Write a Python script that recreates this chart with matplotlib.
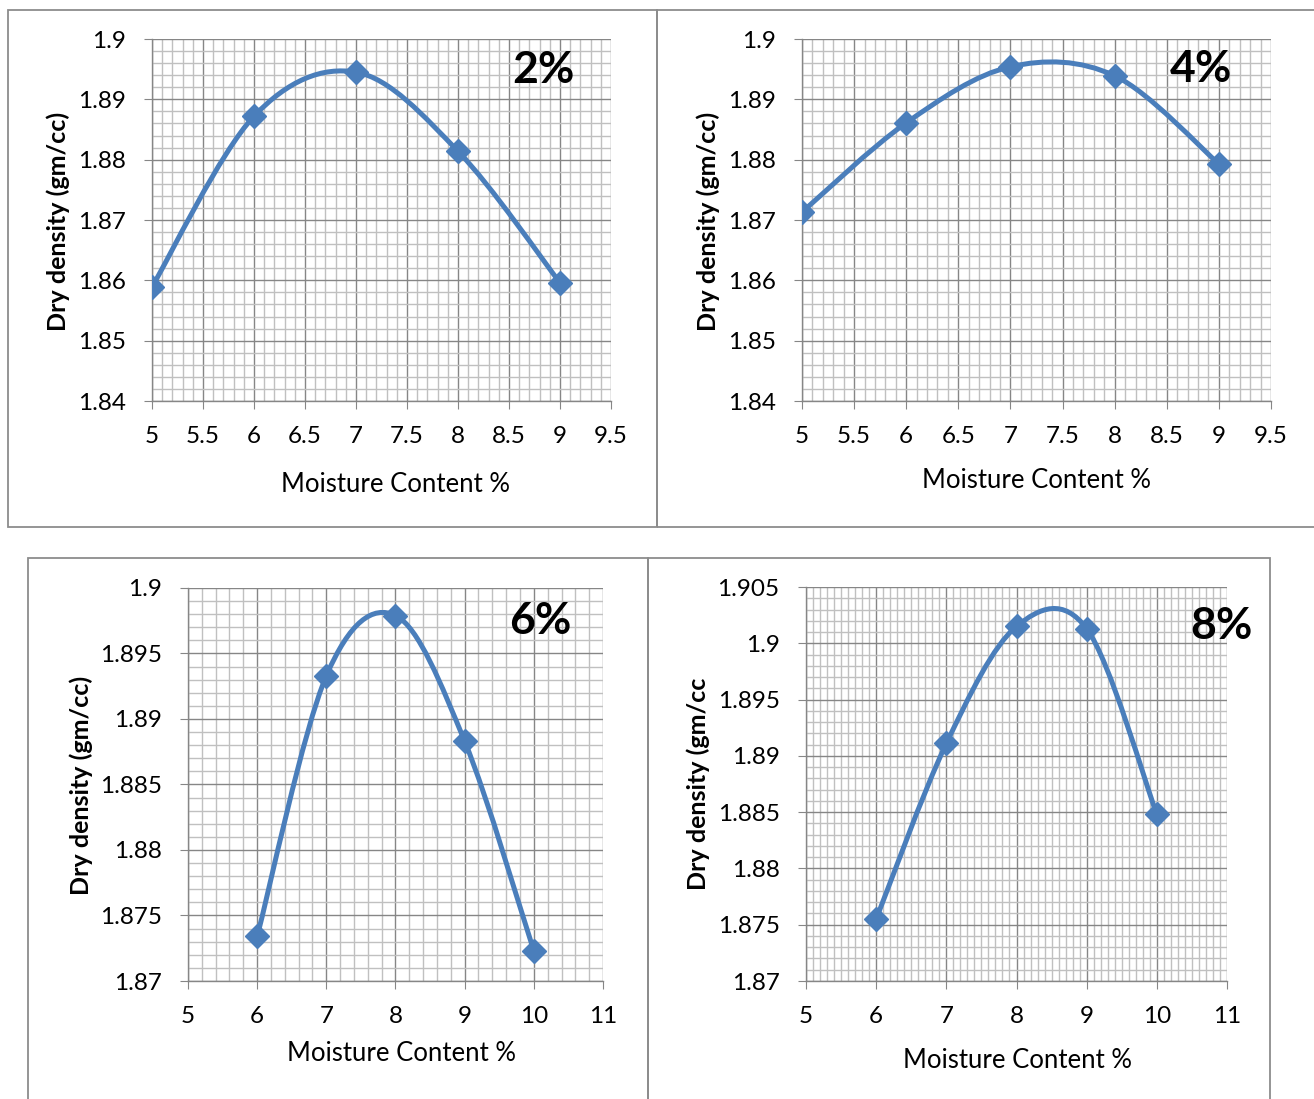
import matplotlib
matplotlib.use('Agg')
import matplotlib.pyplot as plt
from matplotlib.path import Path
from matplotlib.patches import PathPatch, Rectangle
from matplotlib.ticker import MultipleLocator, FormatStrFormatter
import numpy as np

plt.rcParams['font.family'] = ['Lato', 'DejaVu Sans']

#### Dados
mc_2 = [5, 6, 7, 8, 9]
dd_2 = [1.8589, 1.8872, 1.8945, 1.8814, 1.8596]

mc_4 = [5, 6, 7, 8, 9]
dd_4 = [1.8713, 1.8861, 1.8954, 1.8939, 1.8793]

mc_6 = [6, 7, 8, 9, 10]
dd_6 = [1.8734, 1.8933, 1.8979, 1.8883, 1.8723]

mc_8 = [6, 7, 8, 9, 10]
dd_8 = [1.8755, 1.8911, 1.9015, 1.9013, 1.8848]

rotulos = ['2%', '4%', '6%', '8%']
ylabels = ['Dry density (gm/cc)', 'Dry density (gm/cc)', 'Dry density (gm/cc)', 'Dry density (gm/cc']

azul = '#4a7ebb'
cinza = '#868686'
cinza_claro = '#c0c0c0'


def curva_suave(x, y):
    # suavização estilo Excel (Catmull-Rom em Bezier)
    p = np.column_stack([x, y]).astype(float)
    pts = np.vstack([p[0], p, p[-1]])
    verts = [tuple(p[0])]
    codes = [Path.MOVETO]
    for i in range(1, len(pts) - 2):
        c1 = pts[i] + (pts[i + 1] - pts[i - 1]) / 6
        c2 = pts[i + 1] - (pts[i + 2] - pts[i]) / 6
        verts += [tuple(c1), tuple(c2), tuple(pts[i + 1])]
        codes += [Path.CURVE4] * 3
    return Path(verts, codes)


fig = plt.figure(figsize=(13.14, 10.99), dpi=100)

# molduras dos gráficos (em pixels da figura)
W, H = 1314, 1099
for (x0, y0, x1, y1) in [(8, 10, 657, 527), (657, 10, 1320, 527),
                         (28, 558, 648, 1110), (648, 558, 1270, 1110)]:
    fig.patches.append(Rectangle((x0 / W, 1 - y1 / H), (x1 - x0) / W, (y1 - y0) / H,
                                 transform=fig.transFigure, fill=False,
                                 edgecolor='#8c8c8c', linewidth=1.3))

config = [
    # dados, pos (px), xlim, ylim, xmaj, xmin, ymaj, ymin, xlabel pos, ylabel pos, rotulo pos
    (mc_2, dd_2, (152, 39, 611, 401), (5, 9.5), (1.84, 1.9), 0.5, 0.1, 0.01, 0.002,
     (0.53, -0.195), (-0.179, 0.497), (0.852, 0.914)),
    (mc_4, dd_4, (802, 39, 1271, 401), (5, 9.5), (1.84, 1.9), 0.5, 0.1, 0.01, 0.002,
     (0.50, -0.185), (-0.175, 0.497), (0.851, 0.917)),
    (mc_6, dd_6, (188, 588, 603, 981), (5, 11), (1.87, 1.9), 1, 0.2, 0.005, 0.001,
     (0.514, -0.153), (-0.229, 0.497), (0.848, 0.916)),
    (mc_8, dd_8, (806, 587, 1227, 981), (5, 11), (1.87, 1.905), 1, 0.1, 0.005, 0.001,
     (0.502, -0.17), (-0.228, 0.5), (0.986, 0.901)),
]

for k, (x, y, px, xl, yl, xmaj, xmin, ymaj, ymin, xlp, ylp, rp) in enumerate(config):
    l, t, r, b = px
    ax = fig.add_axes([l / W, 1 - b / H, (r - l) / W, (b - t) / H])
    ax.set_xlim(*xl)
    ax.set_ylim(*yl)
    ax.xaxis.set_major_locator(MultipleLocator(xmaj))
    ax.xaxis.set_minor_locator(MultipleLocator(xmin))
    ax.yaxis.set_major_locator(MultipleLocator(ymaj))
    ax.yaxis.set_minor_locator(MultipleLocator(ymin))
    ax.xaxis.set_major_formatter(FormatStrFormatter('%g'))
    ax.yaxis.set_major_formatter(FormatStrFormatter('%g'))
    ax.grid(which='minor', color=cinza_claro, linewidth=1.0)
    ax.grid(which='major', color=cinza, linewidth=1.0)
    ax.set_axisbelow(True)
    for s in ['top', 'right']:
        ax.spines[s].set_visible(False)
    for s in ['left', 'bottom']:
        ax.spines[s].set_color(cinza)
        ax.spines[s].set_linewidth(1.0)
    ax.tick_params(which='major', length=6, color=cinza, labelsize=17.5)
    ax.tick_params(axis='x', which='major', pad=12)
    ax.tick_params(axis='y', which='major', pad=13)
    ax.tick_params(which='minor', length=0)

    ax.add_patch(PathPatch(curva_suave(x, y), facecolor='none', edgecolor=azul,
                           linewidth=3.6, zorder=3, capstyle='round'))
    ax.plot(x, y, linestyle='none', marker='D', markersize=12, color=azul, zorder=4)

    ax.set_xlabel('Moisture Content %', fontsize=18.5)
    ax.xaxis.set_label_coords(*xlp)
    ax.set_ylabel(ylabels[k], fontsize=18, fontweight='bold')
    ax.yaxis.set_label_coords(*ylp)
    ax.text(rp[0], rp[1], rotulos[k], transform=ax.transAxes, fontsize=32,
            fontweight='bold', ha='center', va='center', zorder=5)

fig.savefig('out.png', dpi=100)
